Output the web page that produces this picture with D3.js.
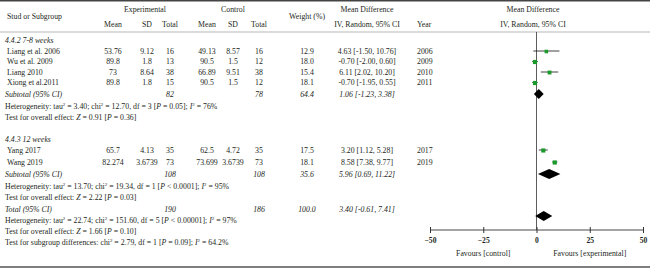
<!DOCTYPE html>
<html>
<head>
<meta charset="utf-8">
<script src="https://cdn.jsdelivr.net/npm/d3@7"></script>
<style>
  body { margin: 0; background: #fff; }
  text { font-family: "Liberation Serif", "DejaVu Serif", serif; font-size: 7.8px; fill: #231f20; }
</style>
</head>
<body>
<div id="forest"></div>
<script>
// study rows
var studies = ["Liang et al. 2006", "Wu et al. 2009", "Liang 2010", "Xiong et al.2011", "Yang 2017", "Wang 2019"];
var expMean = ["53.76", "89.8", "73", "89.8", "65.7", "82.274"];
var expSD = ["9.12", "1.8", "8.64", "1.8", "4.13", "3.6739"];
var expN = [16, 13, 38, 15, 35, 73];
var ctlMean = ["49.13", "90.5", "66.89", "90.5", "62.5", "73.699"];
var ctlSD = ["8.57", "1.5", "9.51", "1.5", "4.72", "3.6739"];
var ctlN = [16, 12, 38, 12, 35, 73];
var weights = [12.9, 18.0, 15.4, 18.1, 17.5, 18.1];
var md = [4.63, -0.70, 6.11, -0.70, 3.20, 8.58];
var mdLo = [-1.50, -2.00, 2.02, -1.95, 1.12, 7.38];
var mdHi = [10.76, 0.60, 10.20, 0.55, 5.28, 9.77];
var years = [2006, 2009, 2010, 2011, 2017, 2019];

// subgroups
var groupLabels = ["4.4.2 7-8 weeks", "4.4.3 12 weeks"];
var subExpN = [82, 108];
var subCtlN = [78, 108];
var subWeight = [64.4, 35.6];
var subMd = [1.06, 5.96];
var subLo = [-1.23, 0.69];
var subHi = [3.38, 11.22];
var subTau2 = ["3.40", "13.70"];
var subChi2 = ["12.70", "19.34"];
var subDf = [3, 1];
var subP = ["= 0.05", "< 0.0001"];
var subI2 = ["76%", "95%"];
var subZ = ["0.91", "2.22"];
var subZP = ["0.36", "0.03"];

// overall
var totExpN = 190, totCtlN = 186, totWeight = 100.0;
var totMd = 3.40, totLo = -0.61, totHi = 7.41;
var totTau2 = "22.74", totChi2 = "151.60", totDf = 5, totP = "< 0.00001", totI2 = "97%";
var totZ = "1.66", totZP = "0.10";
var sgChi2 = "2.79", sgDf = 1, sgP = "0.09", sgI2 = "64.2%";

var xTicks = [-50, -25, 0, 25, 50];
var favourLabels = ["Favours [control]", "Favours [experimental]"];

var W = 650, H = 269;
var svg = d3.select("#forest").append("svg").attr("width", W).attr("height", H);

// columns (centres)
var col = { name: 7, eMean: 113, eSD: 147, eN: 170, cMean: 207, cSD: 233, cN: 259, w: 307, ci: 367, year: 417 };

var x = d3.scaleLinear().domain([-50, 50]).range([430, 643]);

// row positions (vertical centre of each line)
var groupY = [40, 139];
var studyY = [51, 61.5, 72, 82.5, 150, 162];
var subY = [94, 174];
var hetY = [106, 186];
var testY = [117, 197];
var totY = 209, totDiamondY = 216, totHetY = 220, totTestY = 231, sgY = 242;
var axisY = 230;

function txt(xp, yp, s, anchor, italic) {
  return svg.append("text")
    .attr("x", xp).attr("y", yp + 2.7)
    .attr("text-anchor", anchor || "start")
    .style("font-style", italic ? "italic" : null)
    .text(s);
}

// rich text: parts are [string, style]
function rich(xp, yp, parts) {
  var t = svg.append("text").attr("x", xp).attr("y", yp + 2.7);
  parts.forEach(function(p) {
    var sp = t.append("tspan").text(p[0]);
    if (p[1] === "i") sp.style("font-style", "italic");
    if (p[1] === "sup") sp.attr("dy", -2.7).style("font-size", "4.9px");
    if (p[1] === "after") sp.attr("dy", 2.7);
  });
  return t;
}

// borders
svg.append("line").attr("x1", 0).attr("x2", W).attr("y1", 0.75).attr("y2", 0.75)
  .attr("stroke", "#444").attr("stroke-width", 1.5);
svg.append("line").attr("x1", 0).attr("x2", W).attr("y1", 32).attr("y2", 32)
  .attr("stroke", "#888").attr("stroke-width", 0.6);
svg.append("line").attr("x1", 0).attr("x2", W).attr("y1", 267).attr("y2", 267)
  .attr("stroke", "#555").attr("stroke-width", 1.5);

// header
txt(col.name, 16, "Stud or Subgroup");
txt(145, 9, "Experimental", "middle");
txt(233, 9, "Control", "middle");
txt(col.eMean, 24, "Mean", "middle");
txt(col.eSD, 24, "SD", "middle");
txt(col.eN, 24, "Total", "middle");
txt(col.cMean, 24, "Mean", "middle");
txt(col.cSD, 24, "SD", "middle");
txt(col.cN, 24, "Total", "middle");
txt(col.w, 16, "Weight (%)", "middle");
txt(col.ci, 9, "Mean Difference", "middle");
txt(col.ci, 24, "IV, Random, 95% CI", "middle");
txt(col.year, 24, "Year");
txt(533, 9, "Mean Difference", "middle");
txt(533, 24, "IV, Random, 95% CI", "middle");

function ciText(m, l, h) {
  return m.toFixed(2) + " [" + l.toFixed(2) + ", " + h.toFixed(2) + "]";
}

// zero line
svg.append("line").attr("x1", x(0)).attr("x2", x(0)).attr("y1", 32).attr("y2", axisY)
  .attr("stroke", "#333").attr("stroke-width", 0.8);

// group labels
groupLabels.forEach(function(g, i) { txt(5, groupY[i], g, "start", true); });

// study rows
studies.forEach(function(s, i) {
  var y = studyY[i];
  txt(col.name, y, s);
  txt(col.eMean, y, expMean[i], "middle");
  txt(col.eSD, y, expSD[i], "middle");
  txt(col.eN, y, expN[i], "middle");
  txt(col.cMean, y, ctlMean[i], "middle");
  txt(col.cSD, y, ctlSD[i], "middle");
  txt(col.cN, y, ctlN[i], "middle");
  txt(col.w, y, weights[i].toFixed(1), "middle");
  txt(col.ci, y, ciText(md[i], mdLo[i], mdHi[i]), "middle");
  txt(col.year, y, years[i]);
});

// CI lines and squares
svg.selectAll(".ci-line").data(studies).enter().append("line")
  .attr("class", "ci-line")
  .attr("x1", function(d, i) { return x(mdLo[i]); })
  .attr("x2", function(d, i) { return x(mdHi[i]); })
  .attr("y1", function(d, i) { return studyY[i]; })
  .attr("y2", function(d, i) { return studyY[i]; })
  .attr("stroke", "#111").attr("stroke-width", 0.8);

var sq = d3.scaleSqrt().domain([0, 20]).range([0, 4.4]);
svg.selectAll(".box").data(studies).enter().append("rect")
  .attr("class", "box")
  .attr("x", function(d, i) { return x(md[i]) - sq(weights[i]) / 2; })
  .attr("y", function(d, i) { return studyY[i] - sq(weights[i]) / 2 + 0.5; })
  .attr("width", function(d, i) { return sq(weights[i]); })
  .attr("height", function(d, i) { return sq(weights[i]); })
  .attr("fill", "#1a9a2a");

function diamond(m, l, h, y) {
  var hh = 5;
  svg.append("path")
    .attr("d", "M" + x(l) + "," + y + "L" + x(m) + "," + (y - hh) + "L" + x(h) + "," + y + "L" + x(m) + "," + (y + hh) + "Z")
    .attr("fill", "#000");
}

// subtotals
groupLabels.forEach(function(g, i) {
  txt(5, subY[i], "Subtotal (95% CI)", "start", true);
  txt(col.eN, subY[i], subExpN[i], "middle", true);
  txt(col.cN, subY[i], subCtlN[i], "middle", true);
  txt(col.w, subY[i], subWeight[i].toFixed(1), "middle", true);
  txt(col.ci, subY[i], ciText(subMd[i], subLo[i], subHi[i]), "middle", true);
  diamond(subMd[i], subLo[i], subHi[i], subY[i]);

  rich(5, hetY[i], [["Heterogeneity: tau", ""], ["2", "sup"], [" = " + subTau2[i] + "; chi", "after"],
    ["2", "sup"], [" = " + subChi2[i] + ", df = " + subDf[i] + " [", "after"], ["P", "i"],
    [" " + subP[i] + "]; ", ""], ["I", "i"], ["2", "sup"], [" = " + subI2[i], "after"]]);
  rich(5, testY[i], [["Test for overall effect: ", ""], ["Z", "i"], [" = " + subZ[i] + " [", ""],
    ["P", "i"], [" = " + subZP[i] + "]", ""]]);
});

// total
txt(5, totY, "Total (95% CI)", "start", true);
txt(col.eN, totY, totExpN, "middle", true);
txt(col.cN, totY, totCtlN, "middle", true);
txt(col.w, totY, totWeight.toFixed(1), "middle", true);
txt(col.ci, totY, ciText(totMd, totLo, totHi), "middle", true);
diamond(totMd, totLo, totHi, totDiamondY);

rich(5, totHetY, [["Heterogeneity: tau", ""], ["2", "sup"], [" = " + totTau2 + "; chi", "after"],
  ["2", "sup"], [" = " + totChi2 + ", df = " + totDf + " [", "after"], ["P", "i"],
  [" " + totP + "]; ", ""], ["I", "i"], ["2", "sup"], [" = " + totI2, "after"]]);
rich(5, totTestY, [["Test for overall effect: ", ""], ["Z", "i"], [" = " + totZ + " [", ""],
  ["P", "i"], [" = " + totZP + "]", ""]]);
rich(5, sgY, [["Test for subgroup differences: chi", ""], ["2", "sup"],
  [" = " + sgChi2 + ", df = " + sgDf + " [", "after"], ["P", "i"], [" = " + sgP + "]; ", ""],
  ["I", "i"], ["2", "sup"], [" = " + sgI2, "after"]]);

// axis
var axis = svg.append("g").attr("transform", "translate(0," + axisY + ")")
  .call(d3.axisBottom(x).tickValues(xTicks).tickSize(3).tickFormat(d3.format("d")));
axis.select(".domain").attr("stroke", "#333").attr("stroke-width", 0.9).attr("d", "M" + x(-50) + ",0H" + x(50));
axis.selectAll(".tick line").attr("stroke", "#333").attr("y1", -3).attr("y2", 3);
axis.selectAll(".tick text").attr("y", 8).style("font-weight", "bold")
  .style("font-family", '"Liberation Serif", serif').style("font-size", "7.6px").attr("fill", "#231f20");

txt((x(-50) + x(0)) / 2, 253, favourLabels[0], "middle");
txt((x(0) + x(50)) / 2, 253, favourLabels[1], "middle");
</script>
</body>
</html>
